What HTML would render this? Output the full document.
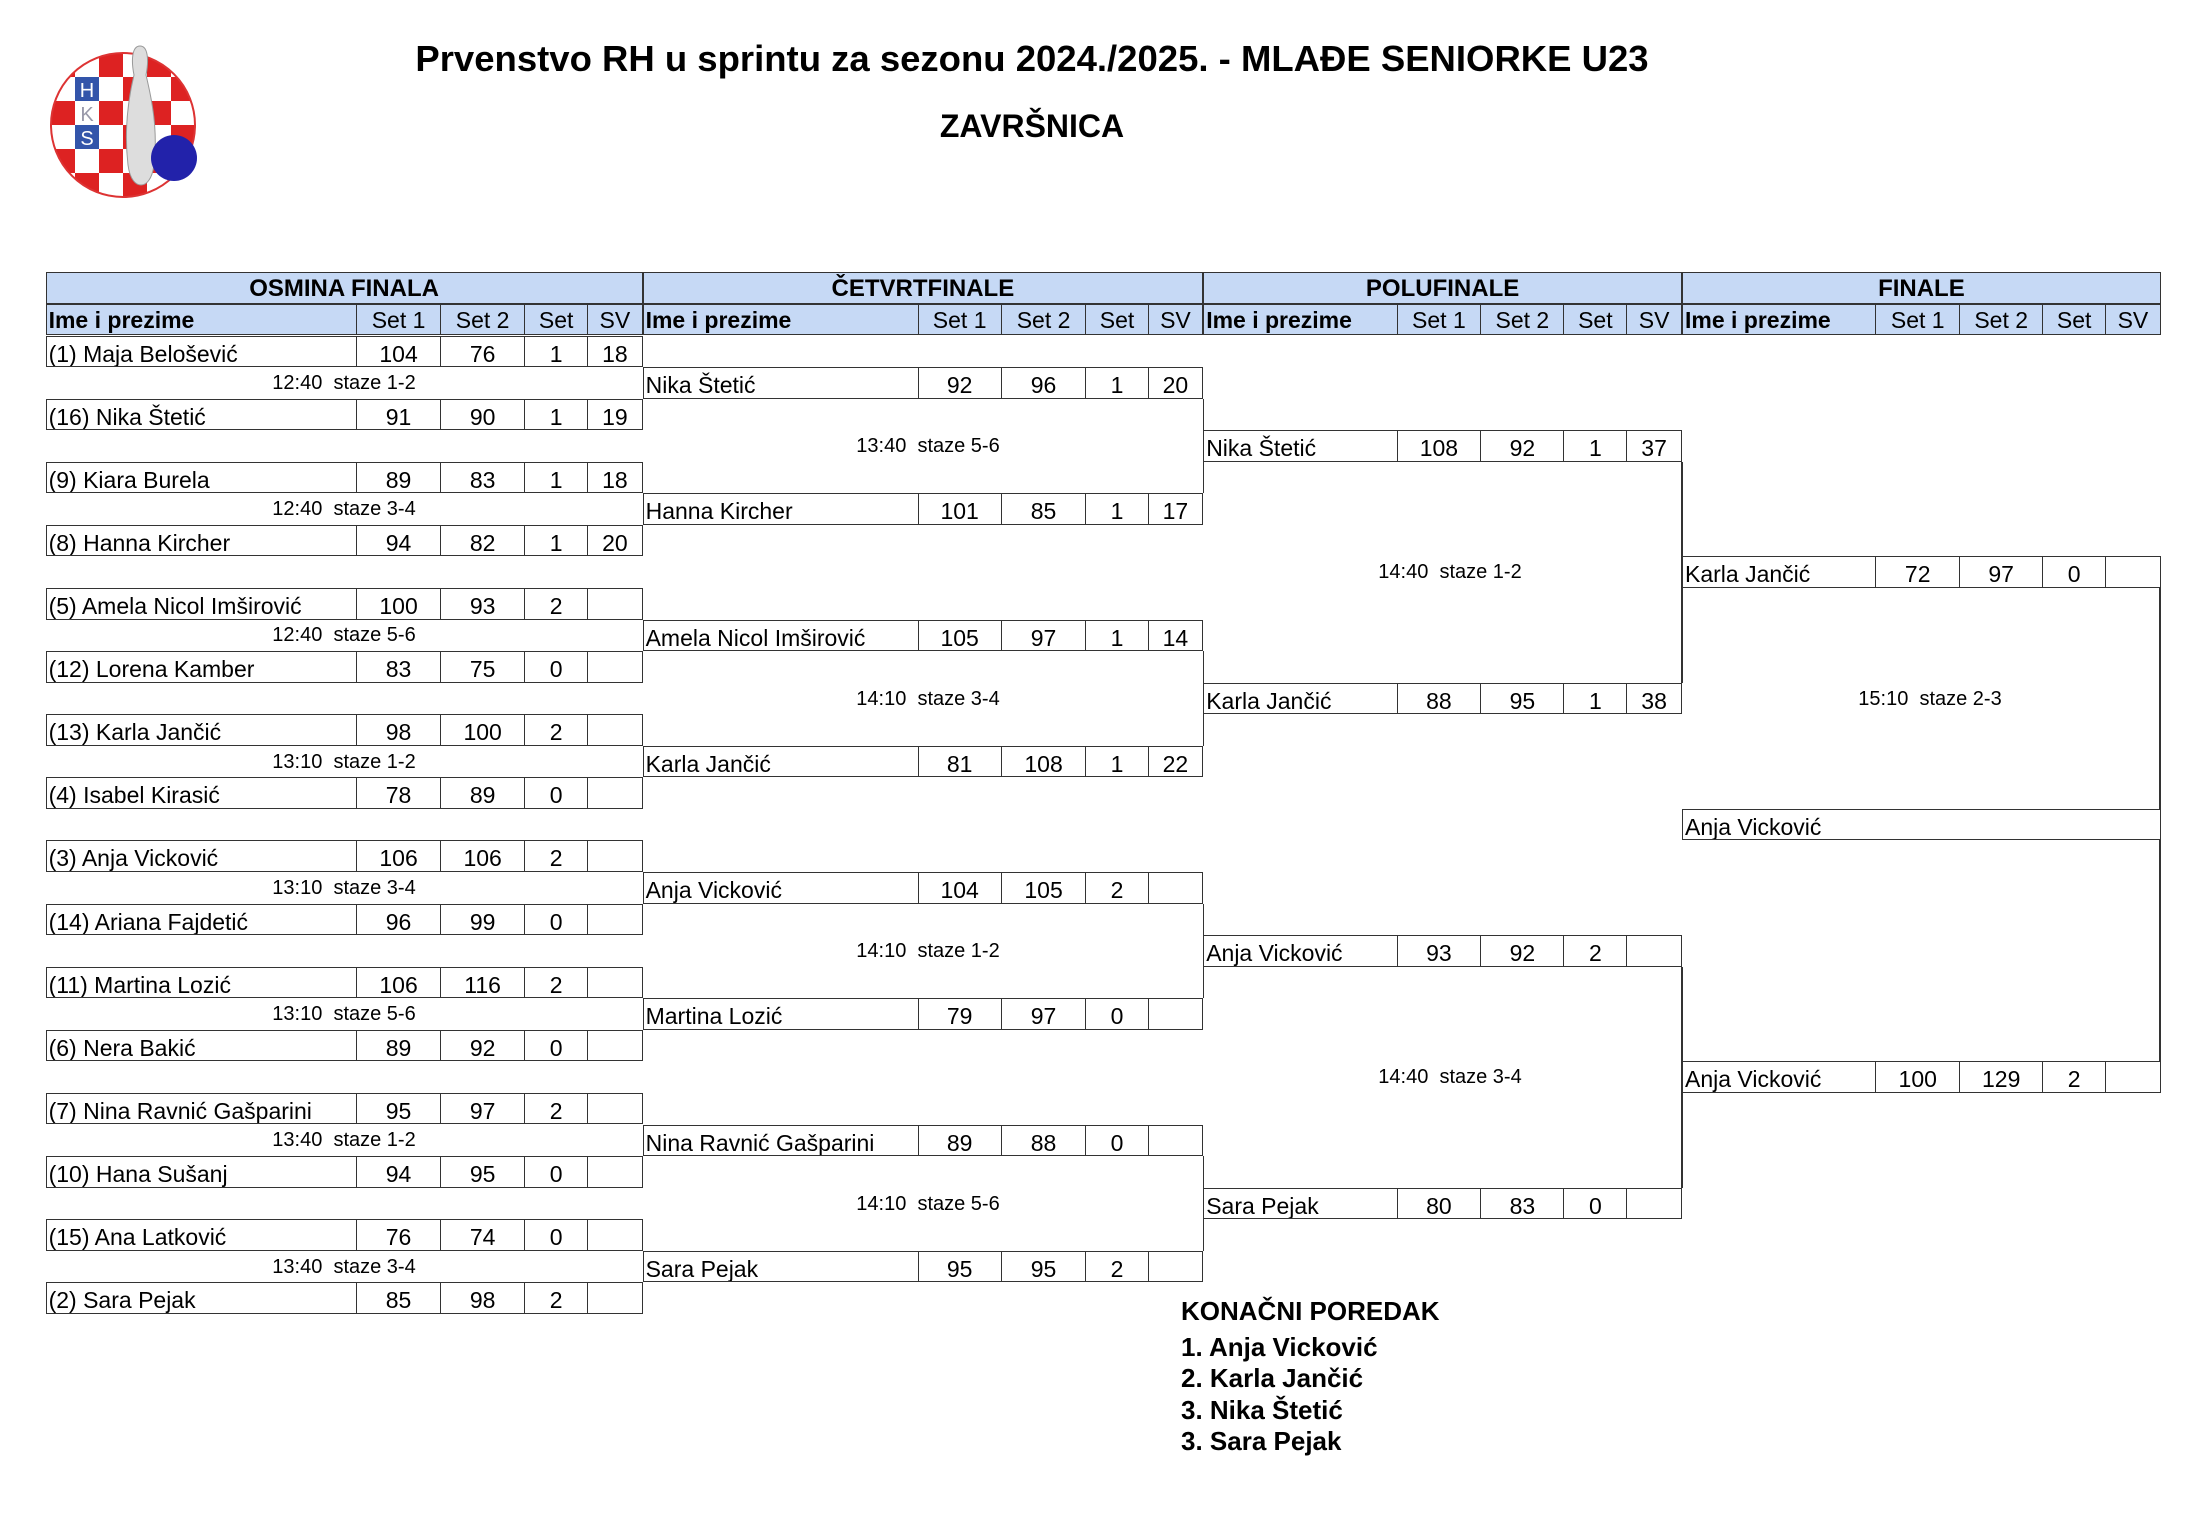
<!DOCTYPE html>
<html><head><meta charset="utf-8"><style>
body{margin:0;width:2186px;height:1534px;background:#fff;position:relative;overflow:hidden;font-family:"Liberation Sans",sans-serif;color:#000}
.r{position:absolute;height:31.56px;display:flex;box-sizing:border-box;border:1.5px solid #333;background:#fff}
.r div{box-sizing:border-box;height:100%;font-size:23px;line-height:34px;text-align:center;white-space:nowrap;overflow:hidden;border-left:1.5px solid #333}
.r div:first-child{border-left:none;text-align:left;padding-left:2px}
.h{background:#c6d9f5}
.h div{line-height:30px}
.h div:first-child{font-weight:bold}
.t{position:absolute;font-size:20px;line-height:22px;text-align:center;white-space:nowrap}
.v{position:absolute;width:1.5px;background:#333}
.ht{position:absolute;top:272px;height:31.75px;box-sizing:border-box;border:1.5px solid #333;background:#c6d9f5;font-weight:bold;font-size:24px;line-height:32px;text-align:center}
.a div:nth-child(1){width:310.4px}.a div:nth-child(2){width:84.5px}.a div:nth-child(3){width:84.2px}.a div:nth-child(4){width:63.3px}.a div:nth-child(5){width:54.6px}
.b div:nth-child(1){width:275px}.b div:nth-child(2){width:83.4px}.b div:nth-child(3){width:85px}.b div:nth-child(4){width:62.5px}.b div:nth-child(5){width:54.7px}
.c div:nth-child(1){width:193.2px}.c div:nth-child(2){width:84px}.c div:nth-child(3){width:83.6px}.c div:nth-child(4){width:63px}.c div:nth-child(5){width:55px}
.a{left:45.6px;width:597px}.b{left:642.6px;width:560.6px}.c{left:1203.2px;width:478.8px}.d{left:1682px;width:478.8px}
</style></head><body>
<svg style="position:absolute;left:45px;top:40px" width="160" height="170" viewBox="45 40 160 170">
<defs><clipPath id="cc"><circle cx="123" cy="125" r="72"/></clipPath></defs>
<g clip-path="url(#cc)">
<rect x="45" y="50" width="160" height="160" fill="#fff"/>
<g fill="#d22">
<rect x="51" y="53" width="24" height="24"/><rect x="99" y="53" width="24" height="24"/><rect x="147" y="53" width="24" height="24"/>
<rect x="75" y="77" width="24" height="24"/><rect x="123" y="77" width="24" height="24"/><rect x="171" y="77" width="24" height="24"/>
<rect x="51" y="101" width="24" height="24"/><rect x="99" y="101" width="24" height="24"/><rect x="147" y="101" width="24" height="24"/>
<rect x="75" y="125" width="24" height="24"/><rect x="123" y="125" width="24" height="24"/><rect x="171" y="125" width="24" height="24"/>
<rect x="51" y="149" width="24" height="24"/><rect x="99" y="149" width="24" height="24"/><rect x="147" y="149" width="24" height="24"/>
<rect x="75" y="173" width="24" height="24"/><rect x="123" y="173" width="24" height="24"/><rect x="171" y="173" width="24" height="24"/>
<rect x="51" y="197" width="24" height="24"/><rect x="99" y="197" width="24" height="24"/><rect x="147" y="197" width="24" height="24"/>
</g>
<rect x="75" y="77" width="24" height="24" fill="#35a"/><rect x="75" y="101" width="24" height="24" fill="#fff"/><rect x="75" y="125" width="24" height="24" fill="#35a"/>
<text x="87" y="97" font-size="20" fill="#fff" text-anchor="middle" font-family="Liberation Sans">H</text>
<text x="87" y="121" font-size="20" fill="#99a" text-anchor="middle" font-family="Liberation Sans">K</text>
<text x="87" y="145" font-size="20" fill="#fff" text-anchor="middle" font-family="Liberation Sans">S</text>
</g>
<circle cx="123" cy="125" r="72" fill="none" stroke="#d33" stroke-width="2"/>
<path d="M140 46 C132 46 131 60 134 75 C128 100 124 130 128 165 C130 180 136 185 141 185 C146 185 152 180 154 165 C158 130 152 100 146 75 C149 60 148 46 140 46Z" fill="#ddd" stroke="#999"/>
<circle cx="174" cy="158" r="23" fill="#2222aa"/>
</svg>
<div style="position:absolute;left:0;width:2064px;top:38px;text-align:center;font-weight:bold;font-size:36.5px">Prvenstvo RH u sprintu za sezonu 2024./2025. - MLAĐE SENIORKE U23</div>
<div style="position:absolute;left:0;width:2064px;top:108px;text-align:center;font-weight:bold;font-size:32px">ZAVRŠNICA</div>

<div class="ht" style="left:45.6px;width:597px">OSMINA FINALA</div>
<div class="ht" style="left:642.6px;width:560.6px">ČETVRTFINALE</div>
<div class="ht" style="left:1203.2px;width:478.8px">POLUFINALE</div>
<div class="ht" style="left:1682px;width:478.8px">FINALE</div>
<div class="r h a" style="top:303.75px"><div>Ime i prezime</div><div>Set 1</div><div>Set 2</div><div>Set</div><div>SV</div></div>
<div class="r h b" style="top:303.75px"><div>Ime i prezime</div><div>Set 1</div><div>Set 2</div><div>Set</div><div>SV</div></div>
<div class="r h c" style="top:303.75px"><div>Ime i prezime</div><div>Set 1</div><div>Set 2</div><div>Set</div><div>SV</div></div>
<div class="r h c d" style="top:303.75px"><div>Ime i prezime</div><div>Set 1</div><div>Set 2</div><div>Set</div><div>SV</div></div>

<div class="v" style="left:1202.5px;top:398.6px;height:94.7px"></div>
<div class="v" style="left:1202.5px;top:651.1px;height:94.7px"></div>
<div class="v" style="left:1202.5px;top:903.6px;height:94.7px"></div>
<div class="v" style="left:1202.5px;top:1156.1px;height:94.7px"></div>
<div class="v" style="left:1681.3px;top:461.7px;height:220.9px"></div>
<div class="v" style="left:1681.3px;top:966.7px;height:220.9px"></div>
<div class="v" style="left:2159.3px;top:588px;height:473.4px"></div>

<div class="r a" style="top:335.5px"><div>(1) Maja Belošević</div><div>104</div><div>76</div><div>1</div><div>18</div></div>
<div class="r a" style="top:398.62px"><div>(16) Nika Štetić</div><div>91</div><div>90</div><div>1</div><div>19</div></div>
<div class="r a" style="top:461.74px"><div>(9) Kiara Burela</div><div>89</div><div>83</div><div>1</div><div>18</div></div>
<div class="r a" style="top:524.86px"><div>(8) Hanna Kircher</div><div>94</div><div>82</div><div>1</div><div>20</div></div>
<div class="r a" style="top:587.98px"><div>(5) Amela Nicol Imširović</div><div>100</div><div>93</div><div>2</div><div></div></div>
<div class="r a" style="top:651.1px"><div>(12) Lorena Kamber</div><div>83</div><div>75</div><div>0</div><div></div></div>
<div class="r a" style="top:714.22px"><div>(13) Karla Jančić</div><div>98</div><div>100</div><div>2</div><div></div></div>
<div class="r a" style="top:777.34px"><div>(4) Isabel Kirasić</div><div>78</div><div>89</div><div>0</div><div></div></div>
<div class="r a" style="top:840.46px"><div>(3) Anja Vicković</div><div>106</div><div>106</div><div>2</div><div></div></div>
<div class="r a" style="top:903.58px"><div>(14) Ariana Fajdetić</div><div>96</div><div>99</div><div>0</div><div></div></div>
<div class="r a" style="top:966.7px"><div>(11) Martina Lozić</div><div>106</div><div>116</div><div>2</div><div></div></div>
<div class="r a" style="top:1029.82px"><div>(6) Nera Bakić</div><div>89</div><div>92</div><div>0</div><div></div></div>
<div class="r a" style="top:1092.94px"><div>(7) Nina Ravnić Gašparini</div><div>95</div><div>97</div><div>2</div><div></div></div>
<div class="r a" style="top:1156.06px"><div>(10) Hana Sušanj</div><div>94</div><div>95</div><div>0</div><div></div></div>
<div class="r a" style="top:1219.18px"><div>(15) Ana Latković</div><div>76</div><div>74</div><div>0</div><div></div></div>
<div class="r a" style="top:1282.3px"><div>(2) Sara Pejak</div><div>85</div><div>98</div><div>2</div><div></div></div>

<div class="r b" style="top:367.06px"><div>Nika Štetić</div><div>92</div><div>96</div><div>1</div><div>20</div></div>
<div class="r b" style="top:493.3px"><div>Hanna Kircher</div><div>101</div><div>85</div><div>1</div><div>17</div></div>
<div class="r b" style="top:619.54px"><div>Amela Nicol Imširović</div><div>105</div><div>97</div><div>1</div><div>14</div></div>
<div class="r b" style="top:745.78px"><div>Karla Jančić</div><div>81</div><div>108</div><div>1</div><div>22</div></div>
<div class="r b" style="top:872.02px"><div>Anja Vicković</div><div>104</div><div>105</div><div>2</div><div></div></div>
<div class="r b" style="top:998.26px"><div>Martina Lozić</div><div>79</div><div>97</div><div>0</div><div></div></div>
<div class="r b" style="top:1124.5px"><div>Nina Ravnić Gašparini</div><div>89</div><div>88</div><div>0</div><div></div></div>
<div class="r b" style="top:1250.74px"><div>Sara Pejak</div><div>95</div><div>95</div><div>2</div><div></div></div>

<div class="r c" style="top:430.18px"><div>Nika Štetić</div><div>108</div><div>92</div><div>1</div><div>37</div></div>
<div class="r c" style="top:682.66px"><div>Karla Jančić</div><div>88</div><div>95</div><div>1</div><div>38</div></div>
<div class="r c" style="top:935.14px"><div>Anja Vicković</div><div>93</div><div>92</div><div>2</div><div></div></div>
<div class="r c" style="top:1187.62px"><div>Sara Pejak</div><div>80</div><div>83</div><div>0</div><div></div></div>

<div class="r c d" style="top:556.42px"><div>Karla Jančić</div><div>72</div><div>97</div><div>0</div><div></div></div>
<div class="r d" style="top:808.9px"><div style="width:100%">Anja Vicković</div></div>
<div class="r c d" style="top:1061.38px"><div>Anja Vicković</div><div>100</div><div>129</div><div>2</div><div></div></div>

<div class="t" style="left:44px;width:600px;top:372px">12:40&nbsp; staze 1-2</div>
<div class="t" style="left:44px;width:600px;top:498px">12:40&nbsp; staze 3-4</div>
<div class="t" style="left:44px;width:600px;top:624px">12:40&nbsp; staze 5-6</div>
<div class="t" style="left:44px;width:600px;top:751px">13:10&nbsp; staze 1-2</div>
<div class="t" style="left:44px;width:600px;top:877px">13:10&nbsp; staze 3-4</div>
<div class="t" style="left:44px;width:600px;top:1003px">13:10&nbsp; staze 5-6</div>
<div class="t" style="left:44px;width:600px;top:1129px">13:40&nbsp; staze 1-2</div>
<div class="t" style="left:44px;width:600px;top:1256px">13:40&nbsp; staze 3-4</div>
<div class="t" style="left:628px;width:600px;top:435px">13:40&nbsp; staze 5-6</div>
<div class="t" style="left:628px;width:600px;top:688px">14:10&nbsp; staze 3-4</div>
<div class="t" style="left:628px;width:600px;top:940px">14:10&nbsp; staze 1-2</div>
<div class="t" style="left:628px;width:600px;top:1193px">14:10&nbsp; staze 5-6</div>
<div class="t" style="left:1150px;width:600px;top:561px">14:40&nbsp; staze 1-2</div>
<div class="t" style="left:1150px;width:600px;top:1066px">14:40&nbsp; staze 3-4</div>
<div class="t" style="left:1630px;width:600px;top:688px">15:10&nbsp; staze 2-3</div>

<div style="position:absolute;left:1181px;top:1296px;font-weight:bold;font-size:26px;line-height:31.5px">KONAČNI POREDAK<br><span style="display:block;height:4px"></span>1. Anja Vicković<br>2. Karla Jančić<br>3. Nika Štetić<br>3. Sara Pejak</div>
</body></html>
